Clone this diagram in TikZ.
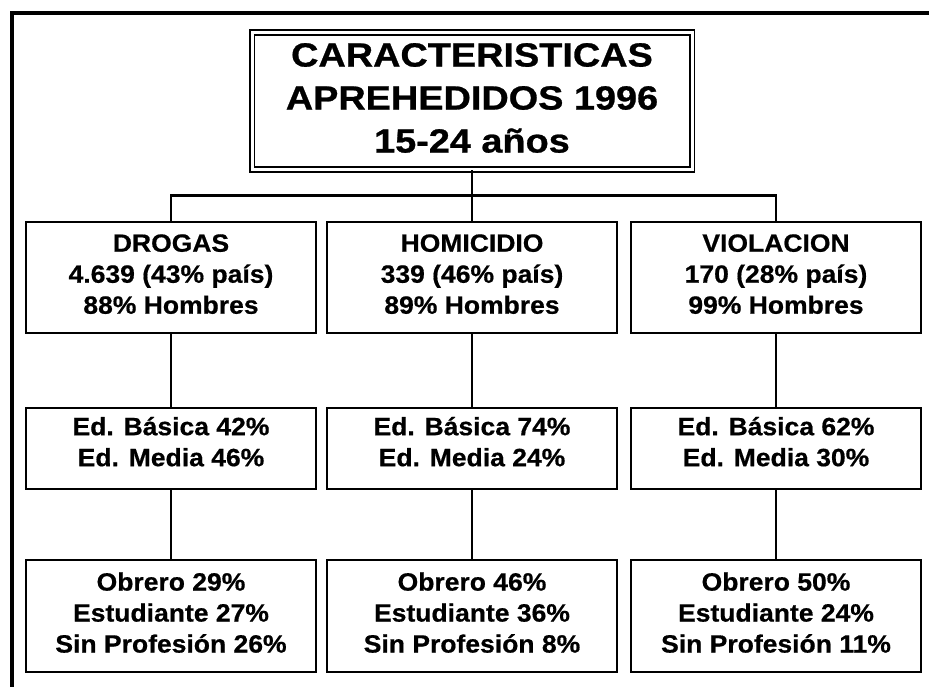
\documentclass[tikz,border=0pt]{standalone}
\usepackage{fontspec}
\setmainfont{Liberation Sans}
\newfontfamily\titlefont{Liberation Sans Bold}[FakeStretch=1.13, FakeBold=0.8]
\newfontfamily\bodyfont{Liberation Sans Bold}[FakeStretch=1.06, FakeBold=0.6]
\usepackage{tikz}
\usetikzlibrary{positioning}

\begin{document}
\begin{tikzpicture}[x=1pt, y=-1pt, line join=miter,
    databox/.style={draw=black, line width=2.4pt, minimum width=290pt, align=center, inner sep=0pt,
      font=\bodyfont\fontsize{25}{31}\selectfont},
    titlebox/.style={draw=black, double, line width=1.8pt, double distance=3pt, minimum width=440pt,
      minimum height=137pt, inner sep=0pt},
    titletext/.style={align=center, inner sep=0pt, font=\titlefont\fontsize{33.5}{43}\selectfont},
    link/.style={line width=2.4pt}]
    \useasboundingbox (0,0) rectangle (929,686);
    \def\ra{277.5}
    \def\rb{448.5}
    \def\rc{616}
    % Frame
    \draw[line width=4pt] (12,688) -- (12,13) -- (931,13);
    % Title
    \node[titlebox] (title) at (472,101) {};
    \node[titletext] (titleText) at (472,98) {CARACTERISTICAS\\APREHEDIDOS 1996\\15-24 años};
    % First row
    \node[databox, minimum height=111pt, text depth=7pt] (drogas) at (171,\ra) {DROGAS\\4.639 (43\% país)\\88\% Hombres};
    \node[databox, minimum height=111pt, text depth=7pt] (homicidio) at (472,\ra) {HOMICIDIO\\339 (46\% país)\\89\% Hombres};
    \node[databox, minimum height=111pt, text depth=7pt] (violacion) at (776,\ra) {VIOLACION\\170 (28\% país)\\99\% Hombres};
    % Education
    \node[databox, minimum height=81pt, text depth=14pt] (edDrogas) at (171,\rb) {Ed. Básica 42\%\\Ed. Media 46\%};
    \node[databox, minimum height=81pt, text depth=14pt] (edHomicidio) at (472,\rb) {Ed. Básica 74\%\\Ed. Media 24\%};
    \node[databox, minimum height=81pt, text depth=14pt] (edViolacion) at (776,\rb) {Ed. Básica 62\%\\Ed. Media 30\%};
    % Occupation
    \node[databox, minimum height=112pt, text depth=7pt] (ocDrogas) at (171,\rc) {Obrero 29\%\\Estudiante 27\%\\Sin Profesión 26\%};
    \node[databox, minimum height=112pt, text depth=7pt] (ocHomicidio) at (472,\rc) {Obrero 46\%\\Estudiante 36\%\\Sin Profesión 8\%};
    \node[databox, minimum height=112pt, text depth=7pt] (ocViolacion) at (776,\rc) {Obrero 50\%\\Estudiante 24\%\\Sin Profesión 11\%};

    % Links
    \draw[link] (title.south) -- ++(0,25) coordinate (bar);
    \draw[link] (drogas.north) |- (bar) -| (violacion.north);
    \draw[link] (bar) -- (homicidio.north);
    \foreach \n in {Drogas,Homicidio,Violacion}{
      \draw[link] (ed\n.south) -- (oc\n.north);
    }
    \draw[link] (drogas) -- (edDrogas);
    \draw[link] (homicidio) -- (edHomicidio);
    \draw[link] (violacion) -- (edViolacion);
\end{tikzpicture}
\end{document}
